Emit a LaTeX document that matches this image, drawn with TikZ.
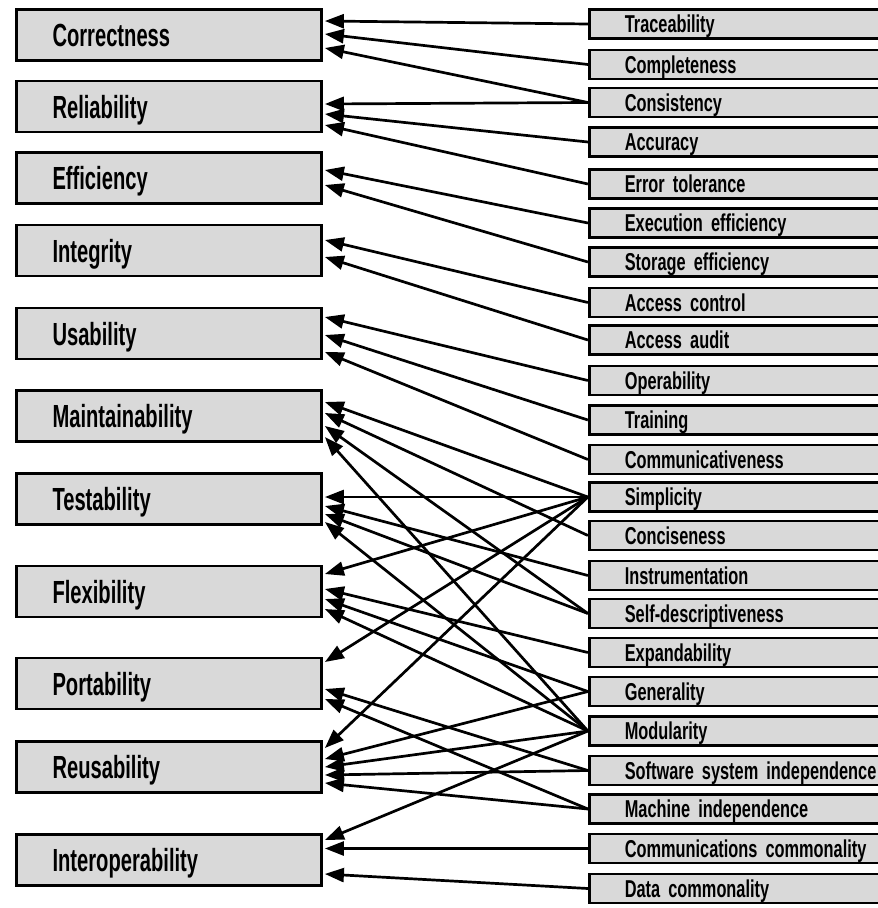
\documentclass[tikz,border=0pt]{standalone}
\usepackage{fontspec}
\setmainfont{Liberation Sans}
\newfontfamily\factorfont{Liberation Sans Bold}[FakeStretch=0.63]
\newfontfamily\criterionfont{Liberation Sans Bold}[FakeStretch=0.67]
\newcommand\critstyle{\criterionfont\fontsize{24.4}{24.4}\selectfont\fontdimen2\font=5.5pt\relax}
\usetikzlibrary{arrows.meta}
\definecolor{boxgray}{gray}{0.85}

\begin{document}
\begin{tikzpicture}[x=1pt,y=-1pt,
  factor/.style={draw=black, line width=2.8pt, fill=boxgray,
    inner ysep=0pt, inner xsep=36pt, minimum width=305pt, minimum height=51pt,
    text width=233pt, align=left, text height=23pt, text depth=0pt,
    font=\factorfont\fontsize{32}{32}\selectfont},
  criterion/.style={draw=black, line width=2.8pt, fill=boxgray,
    inner ysep=0pt, inner xsep=35.5pt, minimum width=420pt, minimum height=29pt,
    text width=349pt, align=left, text height=17.5pt, text depth=0pt,
    font=\critstyle},
  link/.style={line width=2.7pt, -{Triangle[length=19pt,width=14pt]}}
]
\useasboundingbox (0,0) rectangle (878,908);
\clip (0,0) rectangle (878,908);

% quality factors
\node[factor] (corr)  at (169,35)    {Correctness};
\node[factor] (rel)   at (169,106.5) {Reliability};
\node[factor] (eff)   at (169,178)   {Efficiency};
\node[factor] (integ) at (169,250.5) {Integrity};
\node[factor] (usab)  at (169,333.5) {Usability};
\node[factor] (maint) at (169,416)   {Maintainability};
\node[factor] (test)  at (169,499)   {Testability};
\node[factor] (flex)  at (169,591.5) {Flexibility};
\node[factor] (port)  at (169,683.5) {Portability};
\node[factor] (reus)  at (169,767)   {Reusability};
\node[factor] (inter) at (169,860)   {Interoperability};

% quality criteria
\node[criterion] (trace) at (799.3,24)    {Traceability};
\node[criterion] (compl) at (799.3,64.5)  {Completeness};
\node[criterion] (cons)  at (799.3,102.5) {Consistency};
\node[criterion] (acc)   at (799.3,142)   {Accuracy};
\node[criterion] (errt)  at (799.3,184)   {Error tolerance};
\node[criterion] (exeff) at (799.3,223)   {Execution efficiency};
\node[criterion] (steff) at (799.3,262)   {Storage efficiency};
\node[criterion] (actl)  at (799.3,302.5) {Access control};
\node[criterion] (aaud)  at (799.3,340)   {Access audit};
\node[criterion] (oper)  at (799.3,380.5) {Operability};
\node[criterion] (train) at (799.3,420)   {Training};
\node[criterion] (comm)  at (799.3,459.5) {Communicativeness};
\node[criterion] (simp)  at (799.3,497)   {Simplicity};
\node[criterion] (conc)  at (799.3,535.5) {Conciseness};
\node[criterion] (instr) at (799.3,575.5) {Instrumentation};
\node[criterion] (selfd) at (799.3,613.5) {Self-descriptiveness};
\node[criterion] (expa)  at (799.3,652.5) {Expandability};
\node[criterion] (gen)   at (799.3,691.5) {Generality};
\node[criterion] (mod)   at (799.3,731)   {Modularity};
\node[criterion] (ssi)   at (799.3,770.5) {Software system independence};
\node[criterion] (mach)  at (799.3,809)   {Machine independence};
\node[criterion] (ccom)  at (799.3,848.5) {Communications commonality};
\node[criterion] (dcom)  at (799.3,888.5) {Data commonality};

% criteria -> factors
\draw[link] (trace.west) -- ([xshift=2pt,yshift=14pt]corr.east);
\draw[link] (compl.west) -- ([xshift=2pt,yshift=1pt]corr.east);
\draw[link] (cons.west)  -- ([xshift=2pt,yshift=-13pt]corr.east);

\draw[link] (cons.west)  -- ([xshift=2pt,yshift=2.5pt]rel.east);
\draw[link] (acc.west)   -- ([xshift=2pt,yshift=-7.5pt]rel.east);
\draw[link] (errt.west)  -- ([xshift=2pt,yshift=-18.5pt]rel.east);

\draw[link] (exeff.west) -- ([xshift=2pt,yshift=8pt]eff.east);
\draw[link] (steff.west) -- ([xshift=2pt,yshift=-7pt]eff.east);

\draw[link] (actl.west)  -- ([xshift=2pt,yshift=10.5pt]integ.east);
\draw[link] (aaud.west)  -- ([xshift=2pt,yshift=-6.5pt]integ.east);

\draw[link] (oper.west)  -- ([xshift=2pt,yshift=16.5pt]usab.east);
\draw[link] (train.west) -- ([xshift=2pt,yshift=-1.5pt]usab.east);
\draw[link] (comm.west)  -- ([xshift=2pt,yshift=-18.5pt]usab.east);

\draw[link] (simp.west)  -- ([xshift=2pt,yshift=14pt]maint.east);
\draw[link] (conc.west)  -- ([xshift=2pt,yshift=3pt]maint.east);
\draw[link] (selfd.west) -- ([xshift=2pt,yshift=-10pt]maint.east);
\draw[link] (mod.west)   -- ([xshift=2pt,yshift=-21pt]maint.east);

\draw[link] (simp.west)  -- ([xshift=2pt,yshift=2pt]test.east);
\draw[link] (instr.west) -- ([xshift=2pt,yshift=-7pt]test.east);
\draw[link] (selfd.west) -- ([xshift=2pt,yshift=-15pt]test.east);
\draw[link] (mod.west)   -- ([xshift=2pt,yshift=-23pt]test.east);

\draw[link] (simp.west)  -- ([xshift=2pt,yshift=17.5pt]flex.east);
\draw[link] (expa.west)  -- ([xshift=2pt,yshift=2.5pt]flex.east);
\draw[link] (gen.west)   -- ([xshift=2pt,yshift=-7.5pt]flex.east);
\draw[link] (mod.west)   -- ([xshift=2pt,yshift=-17.5pt]flex.east);

\draw[link] (simp.west)  -- ([xshift=2pt,yshift=21.5pt]port.east);
\draw[link] (ssi.west)   -- ([xshift=2pt,yshift=-5.5pt]port.east);
\draw[link] (mach.west)  -- ([xshift=2pt,yshift=-15.5pt]port.east);

\draw[link] (simp.west)  -- ([xshift=2pt,yshift=19pt]reus.east);
\draw[link] (gen.west)   -- ([xshift=2pt,yshift=8pt]reus.east);
\draw[link] (mod.west)   -- ([xshift=2pt,yshift=0pt]reus.east);
\draw[link] (ssi.west)   -- ([xshift=2pt,yshift=-8pt]reus.east);
\draw[link] (mach.west)  -- ([xshift=2pt,yshift=-16pt]reus.east);

\draw[link] (mod.west)   -- ([xshift=2pt,yshift=20pt]inter.east);
\draw[link] (ccom.west)  -- ([xshift=2pt,yshift=11.5pt]inter.east);
\draw[link] (dcom.west)  -- ([xshift=2pt,yshift=-14pt]inter.east);
\end{tikzpicture}
\end{document}
